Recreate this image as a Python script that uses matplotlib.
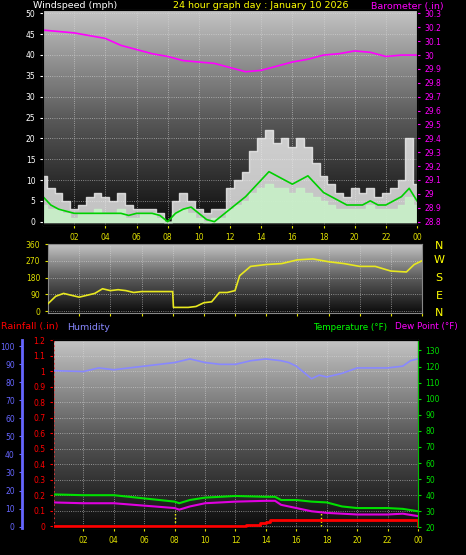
import numpy as np
import matplotlib
matplotlib.use("Agg")
import matplotlib.pyplot as plt
from matplotlib.colors import LinearSegmentedColormap

# ---- data ----
baro_t = list(range(25))
baro = [30.18,30.17,30.16,30.14,30.12,30.07,30.04,30.01,29.99,29.96,29.95,29.94,29.91,29.88,
        29.89,29.92,29.95,29.97,30.00,30.01,30.03,30.02,29.99,30.00,30.00]
wind_t = [i*0.5 for i in range(49)]
gust = [11,8,7,5,3,4,6,7,6,5,7,4,3,3,3,2,0,5,7,5,3,2,3,3,8,10,12,17,20,22,19,20,18,20,18,14,
        11,9,7,6,8,7,8,6,7,8,10,20,9]
speed = [4,3,3,2,1,2,2,3,2,2,3,1,1,2,2,1,0,2,3,2,1,0,1,1,3,4,5,7,8,9,8,8,7,8,7,6,5,4,3,3,
         3,3,4,3,3,3,4,6,4]
avg = [6,4,3,2.5,2,2,2,2,2,2,2,1.5,2,2,2,1.5,0,2,3,3.5,2,0.5,0,1.5,3,4.5,6,8,10,12,11,10,9,10,
       11,9,7,6,5,4,4,4,5,4,4,5,6,8,5]
dir_t = [0,0.5,1,2,2.5,3,3.5,4,4.5,5,5.5,6,7,8,8.05,9,9.5,10,10.5,11,11.5,12,12.3,13,14,15,16,
         17,18,19,20,21,22,23,23.5,24]
wdir = [40,80,95,75,85,95,120,110,115,110,100,105,105,105,20,20,25,45,50,100,100,110,190,240,
        250,255,275,280,265,255,240,240,215,210,250,270]
hum_t = [0,2,3,4,6,7,8,9,10,11,12,13,14,15,15.5,16,17,17.5,18,19,20,21,22,23,23.5,24]
hum = [86.5,86,88,87,89,90,91,93,91,90,90,92,93,92,91,89,82,84,83,85,88,88,88,89,92,93]
temp_t = [0,2,4,6,8,8.3,9,10,12,14,14.6,15,16,17,18,19,20,21,22,23,24]
temp = [40.5,40,40,38,36,35,37,38.5,39.5,39,39,37,37,36,35.5,33,32,32,32,31.5,30]
dew = [35.5,35,35,33.5,32,31,33,35,36,36.5,36.5,34,32,30,29,28.5,28,28,28,28.5,27]
rain_t = [0,12.7,13.6,14.0,14.3,23.9,24]
rain = [0,0.01,0.02,0.03,0.04,0.04,0]
xlabels = ["02","04","06","08","10","12","14","16","18","20","22","00"]

W, H = 466, 555
fig = plt.figure(figsize=(W/100, H/100), dpi=100, facecolor="black")
cmap = LinearSegmentedColormap.from_list("g", ["#0c0c0c", "#5a5a5a", "#c4c4c4"])
fs = 5.5

def ax_px(l, t, r, b):
    return fig.add_axes([l/W, 1-b/H, (r-l)/W, (b-t)/H])

def bg(ax):
    ax.imshow(np.linspace(0, 1, 256).reshape(-1, 1)[::-1], aspect="auto", cmap=cmap,
              extent=[0, 1, 0, 1], transform=ax.transAxes, zorder=0)

def style(ax, ycol, yt, lab=True):
    ax.set_facecolor("black")
    ax.set_xlim(0, 24)
    ax.set_xticks(range(2, 25, 2))
    ax.set_xticklabels(xlabels if lab else [], color="#e0e000", fontsize=fs)
    ax.set_yticks(yt)
    ax.tick_params(axis="y", colors=ycol, labelsize=fs, length=2)
    ax.tick_params(axis="x", colors="#e0e000", length=2)
    ax.grid(True, color="#dddddd", ls=":", lw=0.6, alpha=0.7)
    for s in ax.spines.values():
        s.set_color("#888888")

# ---- top: wind + barometer ----
a1 = ax_px(43, 10, 417, 225)
bg(a1)
a1.fill_between(wind_t, gust, step="mid", color="#f0f0f0", alpha=0.8, zorder=2)
a1.fill_between(wind_t, speed, step="mid", color="#c8f0c8", alpha=0.9, zorder=3)
a1.plot(wind_t, avg, color="#00d000", lw=1.2, zorder=4)
a1.set_ylim(-0.8, 50.8)
style(a1, "white", range(0, 51, 5))
a1b = a1.twinx()
a1b.plot(baro_t, baro, color="#ff00ff", lw=1.2)
a1b.set_ylim(28.775, 30.325)
a1b.set_yticks(np.round(np.arange(28.8, 30.31, 0.1), 1))
a1b.set_yticklabels([f"{v:g}" for v in np.round(np.arange(28.8, 30.31, 0.1), 1)])
a1b.tick_params(axis="y", colors="#ff00ff", labelsize=fs, length=2)
fig.text(33/W, 1-6/H, "Windspeed (mph)", color="white", fontsize=6.8, va="center")
fig.text(173/W, 1-6/H, "24 hour graph day : January 10 2026", color="#ffff00", fontsize=6.8, va="center")
fig.text(371/W, 1-6/H, "Barometer (.in)", color="#ff00ff", fontsize=6.8, va="center")

# ---- middle: wind direction ----
a2 = ax_px(48, 244, 422, 313)
bg(a2)
a2.plot(dir_t, wdir, color="#e8e820", lw=1.2, zorder=3)
a2.set_ylim(-10, 360)
style(a2, "#e0e000", [0, 90, 180, 270, 360], lab=False)
for lab, y in zip("NWSEN", [246, 260, 278, 296, 313]):
    fig.text(439/W, 1-y/H, lab, color="#ffff00", fontsize=8, ha="center", va="center")

# ---- bottom: humidity / rain / temperature ----
a3 = ax_px(53, 340, 418, 528)
bg(a3)
a3.plot(rain_t, rain, color="#ff0000", lw=2, drawstyle="steps-post", zorder=4)
a3.vlines([8.05, 17.6], 0, 0.1, colors="#ffff00", linestyles=":", lw=1, zorder=3)
a3.axvline(0.05, color="#ff4040", ls=":", lw=1.2)
a3.set_ylim(-0.01, 1.2)
style(a3, "#ff0000", np.round(np.arange(0, 1.21, 0.1), 1))
a3.set_yticklabels([f"{v:g}" for v in np.round(np.arange(0, 1.21, 0.1), 1)])
a3.spines["left"].set_color("#ff0000")
a3h = a3.twinx()
a3h.plot(hum_t, hum, color="#8888ff", lw=1.2)
a3h.set_ylim(-0.8, 103.5)
a3h.spines["left"].set_position(("outward", 22))
a3h.spines["left"].set_visible(True)
a3h.spines["left"].set_color("#6666ff")
a3h.spines["left"].set_linewidth(2)
a3h.yaxis.set_label_position("left")
a3h.yaxis.tick_left()
a3h.set_yticks(range(0, 101, 10))
a3h.tick_params(axis="y", colors="#6666ff", labelsize=fs, length=2)
a3t = a3.twinx()
a3t.plot(temp_t, temp, color="#00e000", lw=1.5)
a3t.plot(temp_t, dew, color="#e000e0", lw=1.5)
a3t.set_ylim(19.6, 136.5)
a3t.set_yticks(range(20, 131, 10))
a3t.tick_params(axis="y", colors="#00e000", labelsize=fs, length=2)
a3t.spines["right"].set_color("#00c000")
fig.text(1/W, 1-327/H, "Rainfall (.in)", color="#ff0000", fontsize=6.8, va="center")
fig.text(67/W, 1-327/H, "Humidity", color="#8888ff", fontsize=6.8, va="center")
fig.text(313/W, 1-327/H, "Temperature (°F)", color="#00ff00", fontsize=6.3, va="center")
fig.text(395/W, 1-327/H, "Dew Point (°F)", color="#ff00ff", fontsize=6.3, va="center")

fig.savefig("out.png", dpi=100, facecolor="black")
